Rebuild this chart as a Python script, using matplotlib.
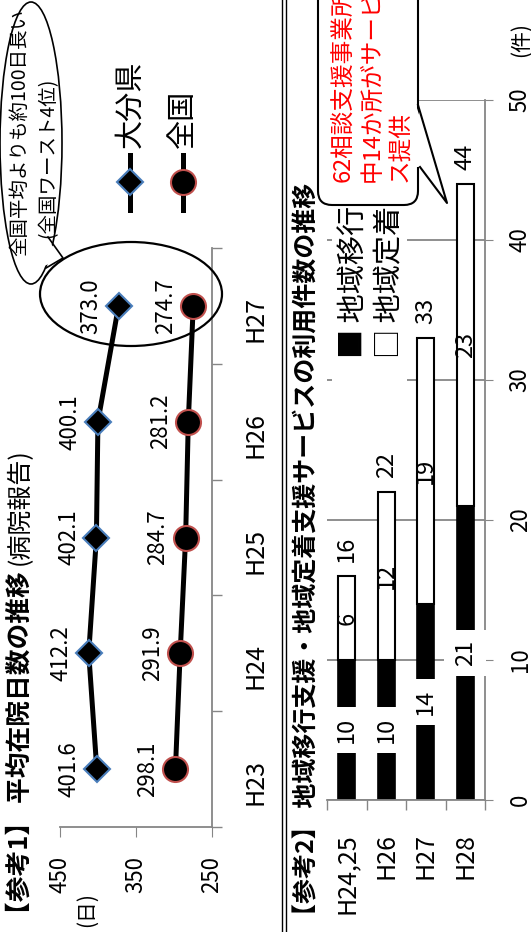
import matplotlib
matplotlib.use("Agg")
import matplotlib.pyplot as plt
from matplotlib.transforms import Affine2D
from matplotlib.patches import Ellipse, FancyBboxPatch, Polygon, Rectangle
from matplotlib.lines import Line2D

plt.rcParams['font.family'] = ['Noto Sans CJK JP', 'DejaVu Sans']

# 【参考1】 平均在院日数の推移
years1 = ["H23", "H24", "H25", "H26", "H27"]
oita = [401.6, 412.2, 402.1, 400.1, 373.0]
zenkoku = [298.1, 291.9, 284.7, 281.2, 274.7]

# 【参考2】 地域移行支援・地域定着支援の利用件数
years2 = ["H24,25", "H26", "H27", "H28"]
ikou = [10, 10, 14, 21]
teichaku = [6, 12, 19, 23]

W, H = 531, 932
fig = plt.figure(figsize=(W / 100, H / 100), dpi=100)
# pixel coords, origin top-left (chart is drawn turned 90 degrees)
px = Affine2D().scale(1 / W, -1 / H).translate(0, 1) + fig.transFigure
GRAY = "#868686"


def box(l, t, r, b):
    return [l / W, 1 - b / H, (r - l) / W, (b - t) / H]


# ---------------- chart 1 ----------------
ax1 = fig.add_axes(box(60, 248, 212, 827))
pos1 = list(range(len(years1)))
ax1.plot(oita, pos1, color="black", lw=3.6, marker="D", ms=13.5,
         mfc="black", mec="#4a7ebb", mew=1.5, zorder=3)
ax1.plot(zenkoku, pos1, color="black", lw=3.6, marker="o", ms=18,
         mfc="black", mec="#c0504d", mew=1.5, zorder=3)
ax1.set_xlim(450, 250)
ax1.set_ylim(-0.5, len(years1) - 0.5)
for s in ["top", "left"]:
    ax1.spines[s].set_visible(False)
for s in ["bottom", "right"]:
    ax1.spines[s].set_color(GRAY)
    ax1.spines[s].set_linewidth(1.3)
ax1.set_xticks([450, 350, 250])
ax1.tick_params(axis="x", direction="out", length=7, color=GRAY,
                pad=14, labelsize=16, labelrotation=90)
ax1.yaxis.tick_right()
ax1.set_yticks(pos1)
ax1.set_yticklabels(years1)
ax1.set_yticks([p - 0.5 for p in pos1] + [pos1[-1] + 0.5], minor=True)
ax1.tick_params(axis="y", which="major", length=0, pad=22, labelsize=18,
                labelrotation=90)
ax1.tick_params(axis="y", which="minor", direction="out", length=7,
                color=GRAY, width=1)

for i, v in enumerate(oita):
    ax1.annotate(f"{v:.1f}", (v, i), xytext=(-20, 0), textcoords="offset points",
                 rotation=90, ha="center", va="center", fontsize=16)
for i, v in enumerate(zenkoku):
    ax1.annotate(f"{v:.1f}", (v, i), xytext=(-20, 0), textcoords="offset points",
                 rotation=90, ha="center", va="center", fontsize=16)

# title 1: bold part, then the plain part right after it
t1 = fig.text(20, 927, "【参考1】 平均在院日数の推移", transform=px, rotation=90,
              ha="center", va="bottom", fontsize=18.5, fontweight="bold")
fig.canvas.draw()
bb = t1.get_window_extent(fig.canvas.get_renderer())
fig.text(20, H - bb.y1 - 6, "(病院報告)", transform=px, rotation=90,
         ha="center", va="bottom", fontsize=18)
fig.text(87, 927, "(日)", transform=px, rotation=90, ha="center",
         va="bottom", fontsize=15)

# legend of chart 1
fig.add_artist(Line2D([130, 130, 130], [210, 182, 155], transform=px,
                      color="black", lw=3.6, marker="D", ms=13.5, mfc="black",
                      mec="#4a7ebb", mew=1.5, markevery=[1]))
fig.add_artist(Line2D([183, 183, 183], [210, 182, 155], transform=px,
                      color="black", lw=3.6, marker="o", ms=18, mfc="black",
                      mec="#c0504d", mew=1.5, markevery=[1]))
fig.text(130, 148, "大分県", transform=px, rotation=90, ha="center",
         va="bottom", fontsize=21)
fig.text(183, 148, "全国", transform=px, rotation=90, ha="center",
         va="bottom", fontsize=21)

# callout of chart 1
fig.add_artist(Ellipse((31, 143), 62, 282, transform=px, fc="white",
                       ec="black", lw=1.2))
fig.add_artist(Polygon([(44, 236), (63, 258), (44, 266)], closed=True,
                       transform=px, fc="white", ec="none"))
fig.add_artist(Line2D([48, 63, 46], [237, 258, 268], transform=px,
                      color="black", lw=1.2))
fig.text(20, 132, "全国平均よりも約100日長い", transform=px, rotation=90,
         ha="center", va="center", fontsize=14)
fig.text(48, 158, "(全国ワースト4位)", transform=px, rotation=90,
         ha="center", va="center", fontsize=14)
fig.add_artist(Ellipse((131, 294), 182, 104, transform=px, fc="none",
                       ec="black", lw=1.6))

# separator
fig.add_artist(Line2D([282, 282], [0, H], transform=px, color="black", lw=1))
fig.add_artist(Line2D([286, 286], [0, H], transform=px, color="black", lw=1))

# ---------------- chart 2 ----------------
ax2 = fig.add_axes(box(327, 100, 485, 800))
pos2 = list(range(len(years2)))
tot = [a + b for a, b in zip(ikou, teichaku)]
ax2.bar(pos2, ikou, width=0.42, color="black", edgecolor="black", lw=1.2,
        zorder=2)
ax2.bar(pos2, teichaku, bottom=ikou, width=0.42, color="white",
        edgecolor="black", lw=1.5, zorder=2)
ax2.set_xlim(-0.5, len(years2) - 0.5)
ax2.set_ylim(0, 50)
ax2.set_axisbelow(True)
ax2.yaxis.grid(True, color=GRAY, lw=1.3)
for s in ["top", "left"]:
    ax2.spines[s].set_visible(False)
for s in ["bottom", "right"]:
    ax2.spines[s].set_color(GRAY)
    ax2.spines[s].set_linewidth(1.3)
ax2.yaxis.tick_right()
ax2.set_yticks(range(0, 51, 10))
ax2.tick_params(axis="y", direction="out", length=6, color=GRAY, pad=11,
                labelsize=16, labelrotation=90)
for lab in ax2.get_yticklabels():
    lab.set_va("center")
ax2.set_xticks(pos2)
ax2.set_xticklabels(years2)
ax2.set_xticks([p - 0.5 for p in pos2] + [pos2[-1] + 0.5], minor=True)
ax2.tick_params(axis="x", which="major", length=0, pad=24, labelsize=18,
                labelrotation=90)
ax2.tick_params(axis="x", which="minor", direction="out", length=7,
                color=GRAY, width=1)

for i in pos2:
    ax2.text(i, ikou[i] / 2, str(ikou[i]), rotation=90, ha="center",
             va="center", fontsize=17, zorder=4,
             bbox=dict(boxstyle="square,pad=0.4", fc="white", ec="none"))
    ax2.text(i, ikou[i] + teichaku[i] / 2, str(teichaku[i]), rotation=90,
             ha="center", va="center", fontsize=17, zorder=4)
    ax2.annotate(str(tot[i]), (i, tot[i]), xytext=(0, 10),
                 textcoords="offset points", rotation=90, ha="center",
                 va="bottom", fontsize=17)

# legend of chart 2
fig.add_artist(Rectangle((332, 195), 75, 197, transform=px, fc="white",
                         ec="none"))
fig.text(339, 358, "■ 地域移行\n□ 地域定着", transform=px, rotation=90,
         ha="left", va="bottom", fontsize=21, multialignment="left",
         linespacing=1.25)

fig.text(307, 928, "【参考2】 地域移行支援・地域定着支援サービスの利用件数の推移",
         transform=px, rotation=90, ha="center", va="bottom", fontsize=18,
         fontweight="bold")
fig.text(521, 40, "(件)", transform=px, rotation=90, ha="center",
         va="center", fontsize=15)

# callout of chart 2
fig.add_artist(FancyBboxPatch((318, -40), 100, 245, transform=px,
                              boxstyle="round,pad=0,rounding_size=14",
                              fc="white", ec="black", lw=1.5))
fig.add_artist(Polygon([(416, 105), (447, 203), (419, 167), (416, 167)],
                       closed=True, transform=px, fc="white", ec="none"))
fig.add_artist(Line2D([418, 447, 420], [105, 203, 167], transform=px,
                      color="black", lw=1.5))
fig.text(332, 182, "62相談支援事業所\n中14か所がサービ\nス提供", transform=px,
         rotation=90, ha="left", va="bottom", fontsize=17, color="red",
         multialignment="left", linespacing=1.3)

fig.savefig("out.png", dpi=100)
